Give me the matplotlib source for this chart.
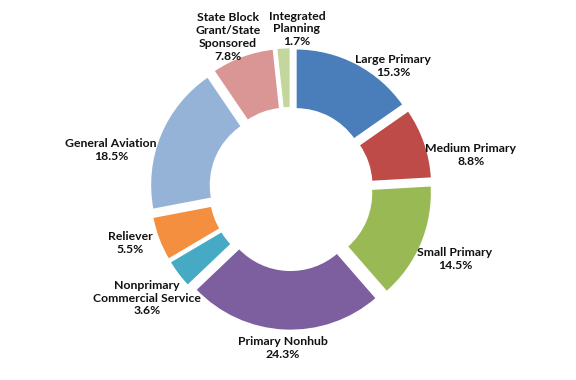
import matplotlib
matplotlib.use("Agg")
import matplotlib.pyplot as plt

# airport categories, clockwise from 12 o'clock
categories = ["Large Primary", "Medium Primary", "Small Primary", "Primary Nonhub",
              "Nonprimary\nCommercial Service", "Reliever", "General Aviation",
              "State Block\nGrant/State\nSponsored", "Integrated\nPlanning"]
shares = [15.3, 8.8, 14.5, 24.3, 3.6, 5.5, 18.5, 7.8, 1.7]
colors = ["#4A7EBB", "#BE4B48", "#98B954", "#7D5FA0", "#46AAC5",
          "#F38F3E", "#95B3D7", "#D99694", "#C3D69B"]

# label centres in pixels (x, y from top) of the 576x380 image
label_px = [(393, 66), (471, 155), (455, 259), (283, 348), (147, 298),
            (130, 243), (111, 150), (228, 37), (297, 29)]

W, H = 576, 380
CX, CY, R = 291, 189, 131   # pie centre and radius in pixels

fig = plt.figure(figsize=(W / 100, H / 100), dpi=100)
ax = fig.add_axes([0, 0, 1, 1])

ax.pie(shares, colors=colors, startangle=90, counterclock=False,
       radius=1.0, explode=[0.08] * len(shares),
       wedgeprops=dict(width=0.46, edgecolor="white", linewidth=1.2))

ax.set_xlim(-CX / R, (W - CX) / R)
ax.set_ylim(-(H - CY) / R, CY / R)
ax.set_aspect("auto")
ax.axis("off")

for name, val, (px, py) in zip(categories, shares, label_px):
    x = (px - CX) / R
    y = (CY - py) / R
    ax.text(x, y, f"{name}\n{val:.1f}%", ha="center", va="center",
            fontsize=8.8, fontweight="bold", family="Lato", color="#111111",
            linespacing=1.2)

plt.savefig("out.png", dpi=100)
